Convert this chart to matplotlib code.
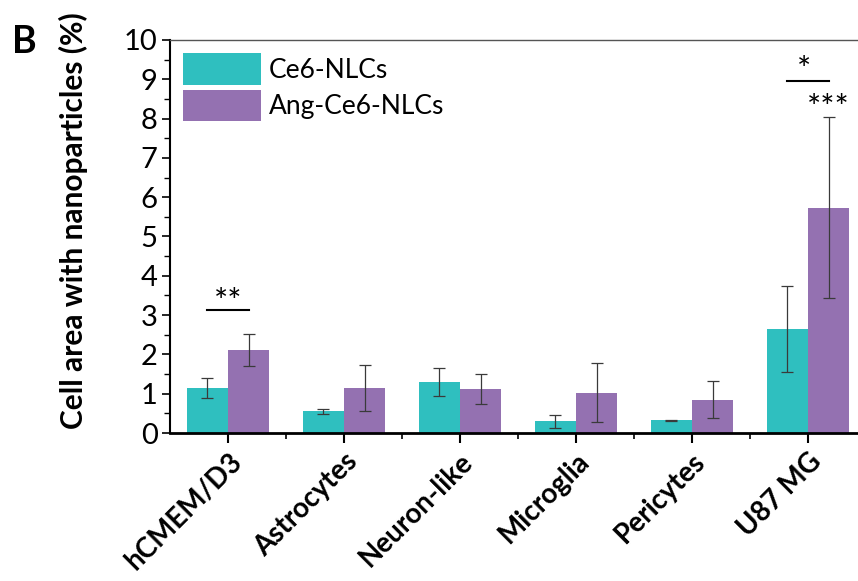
import numpy as np
import matplotlib.pyplot as plt
from matplotlib.ticker import MultipleLocator

plt.rcParams['font.family'] = ['Lato', 'DejaVu Sans']

cells = ['hCMEM/D3', 'Astrocytes', 'Neuron-like', 'Microglia', 'Pericytes', 'U87 MG']
ce6 = [1.14, 0.55, 1.30, 0.30, 0.32, 2.65]
ce6_err = [0.26, 0.06, 0.35, 0.17, 0.02, 1.09]
ang = [2.12, 1.15, 1.13, 1.03, 0.85, 5.73]
ang_err = [0.41, 0.58, 0.38, 0.75, 0.47, 2.30]

cyan = '#2fbfbf'
purple = '#9471b1'

fig = plt.figure(figsize=(8.58, 5.81), dpi=100)
ax = fig.add_axes([170/858, 148/581, 696/858, 393/581])

x = np.arange(len(cells))
w = 0.355
ekw = dict(ecolor='#3a3a3a', elinewidth=0.9, capsize=4, capthick=0.9)
ax.bar(x - w/2, ce6, w, yerr=ce6_err, color=cyan, label='Ce6-NLCs', error_kw=ekw)
ax.bar(x + w/2, ang, w, yerr=ang_err, color=purple, label='Ang-Ce6-NLCs', error_kw=ekw)

# significance marks
ax.plot([x[0] - w/2, x[0] + w/2], [3.13, 3.13], color='black', lw=1.5)
ax.text(x[0], 3.31, '**', ha='center', va='center', fontsize=24)
ax.plot([x[5] - w/2, x[5] + w/2], [8.96, 8.96], color='black', lw=1.5)
ax.text(x[5] - 0.03, 9.2, '*', ha='center', va='center', fontsize=24)
ax.text(x[5] + w/2, 8.24, '***', ha='center', va='center', fontsize=24)

ax.set_xlim(-0.5, 5.5)
ax.set_ylim(0, 10)
ax.yaxis.set_major_locator(MultipleLocator(1))
ax.yaxis.set_minor_locator(MultipleLocator(0.5))
ax.set_xticks(x)
ax.set_xticks(x[:-1] + 0.5, minor=True)
ax.set_xticklabels(cells, rotation=45, ha='right', rotation_mode='anchor',
                   fontsize=20, fontweight='bold')
ax.tick_params(axis='y', labelsize=21, length=6, width=1.2, direction='out', pad=3)
ax.tick_params(axis='y', which='minor', length=4, width=1.0)
ax.tick_params(axis='x', which='major', length=7, width=1.5, pad=4)
ax.tick_params(axis='x', which='minor', length=4, width=1.2)
ax.set_ylabel('Cell area with nanoparticles (%)', fontsize=21.5, fontweight='bold')
ax.yaxis.set_label_coords(-0.118, 0.54)

ax.spines['left'].set_linewidth(1.5)
ax.spines['bottom'].set_linewidth(2)
ax.spines['top'].set_linewidth(1.0)
ax.spines['top'].set_color('#555555')

ax.legend(loc='upper left', frameon=False, fontsize=19,
          handlelength=2.95, handleheight=1.45, labelspacing=0.2, handletextpad=0.3,
          borderpad=0.2, borderaxespad=0.3)

fig.text(0.014, 0.928, 'B', fontsize=27, fontweight='bold', va='center')

fig.savefig('out.png', dpi=100)
